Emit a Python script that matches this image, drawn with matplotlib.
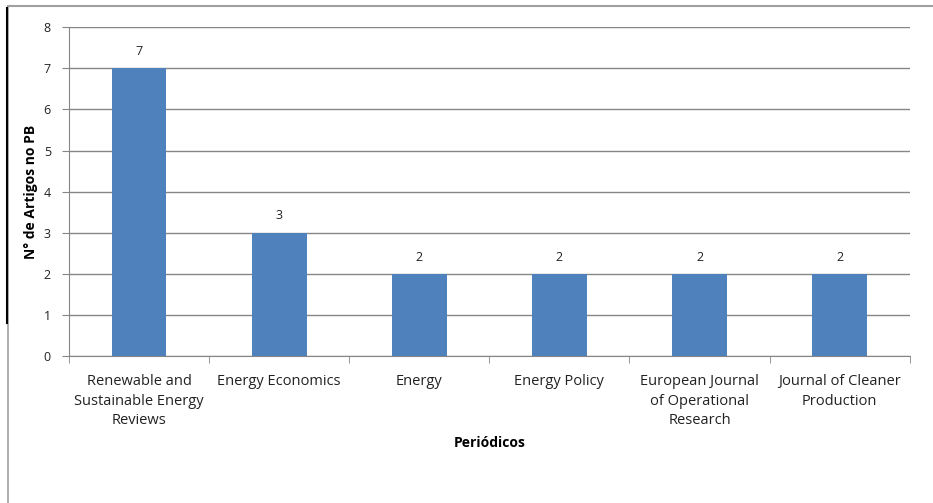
import matplotlib.pyplot as plt
from matplotlib.lines import Line2D
import numpy as np

####################
periodicos = ['Renewable and\nSustainable Energy\nReviews', 'Energy Economics', 'Energy',
              'Energy Policy', 'European Journal\nof Operational\nResearch',
              'Journal of Cleaner\nProduction']
artigos = [7, 3, 2, 2, 2, 2]
####################

plt.rcParams['font.family'] = ['Open Sans', 'DejaVu Sans']

fig = plt.figure(figsize=(9.33, 5.03), dpi=100)
ax = fig.add_axes([0.074, 0.292, 0.901, 0.654])

x = np.arange(len(periodicos))
bars = ax.bar(x, artigos, width=0.39, color='#4F81BD', zorder=3)
for b, v in zip(bars, artigos):
    ax.text(b.get_x() + b.get_width() / 2, v + 0.25, str(v), ha='center', va='bottom',
            fontsize=9, color='#222222')

ax.set_xlim(-0.5, len(periodicos) - 0.5)
ax.set_ylim(0, 8)
ax.set_yticks(range(0, 9))
ax.set_xticks(x)
ax.set_xticklabels(periodicos, fontsize=10.5, color='#222222', linespacing=1.4)
ax.set_xticks(np.arange(-0.5, len(periodicos)), minor=True)
ax.tick_params(axis='x', which='major', length=0, pad=13)
ax.tick_params(axis='x', which='minor', length=5, color='#868686', direction='out')
ax.tick_params(axis='y', length=5, color='#868686', labelsize=9, labelcolor='#222222', pad=8)

ax.yaxis.grid(True, color='#868686', linewidth=1, zorder=0)
for s in ['top', 'right']:
    ax.spines[s].set_visible(False)
ax.spines['left'].set_color('#868686')
ax.spines['bottom'].set_color('#868686')

ax.set_ylabel('N° de Artigos no PB', fontsize=10, fontweight='bold', labelpad=4)
ax.set_xlabel('Periódicos', fontsize=10, fontweight='bold', labelpad=6)

# moldura
fig.add_artist(Line2D([8 / 933, 1], [1 - 6 / 503] * 2, color='#a0a0a0', lw=1.5))
fig.add_artist(Line2D([8 / 933] * 2, [0, 1 - 6 / 503], color='#a0a0a0', lw=1.2))
fig.add_artist(Line2D([7 / 933] * 2, [1 - 323 / 503, 1 - 8 / 503], color='black', lw=1.5))

fig.savefig('out.png', dpi=100)
